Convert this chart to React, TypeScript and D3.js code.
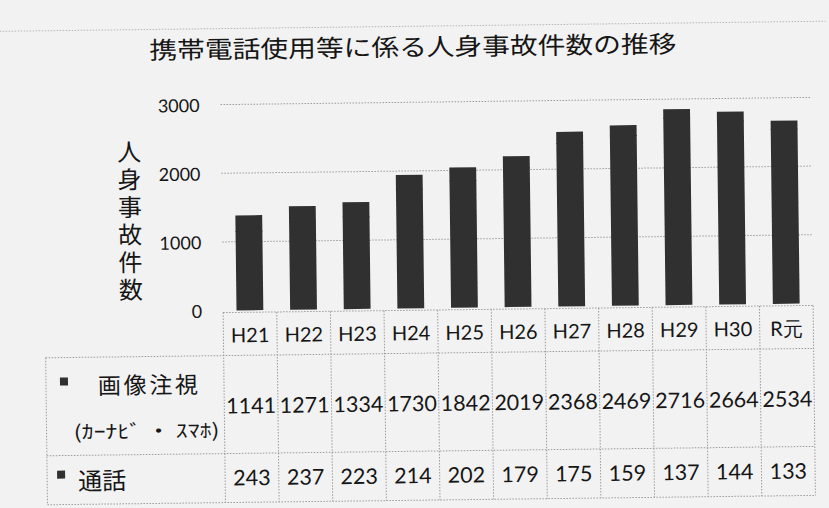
import React from 'react';
import * as d3 from 'd3';

const categories = ['H21', 'H22', 'H23', 'H24', 'H25', 'H26', 'H27', 'H28', 'H29', 'H30', 'R元'];
const imageWatch = [1141, 1271, 1334, 1730, 1842, 2019, 2368, 2469, 2716, 2664, 2534];
const calls = [243, 237, 223, 214, 202, 179, 175, 159, 137, 144, 133];
const yTicks = [0, 1000, 2000, 3000];
const titleText = '携帯電話使用等に係る人身事故件数の推移';
const yTitle = '人身事故件数';
const seriesNames = ['画像注視', '通話'];
const seriesSub = '(ｶｰﾅﾋﾞ ・ ｽﾏﾎ)';

const W = 829;
const H = 508;
const tableLeft = 223;
const tableRight = 813;
const legendLeft = 45;
const headerTop = 309;
const headerBottom = 352;
const row1Bottom = 450;
const row2Bottom = 499;

const numFont = 'Lato, "Open Sans", sans-serif';
const jpFont = '"Noto Sans CJK JP", sans-serif';
const ink = '#161616';
const barFill = '#303030';
const lineCol = '#9a9a9a';

export default function App() {
  const x = d3.scaleBand<string>().domain(categories).range([tableLeft, tableRight]).paddingInner(0.5).paddingOuter(0.25);
  const col = d3.scaleBand<string>().domain(categories).range([tableLeft, tableRight]).padding(0);
  const y = d3.scaleLinear().domain([0, 3000]).range([307, 101]);

  const rows = categories.map((c, i) => ({ cat: c, img: imageWatch[i], call: calls[i] }));
  const stacked = d3.stack<any>().keys(['img', 'call'])(rows);

  const colEdges = categories.map((c) => col(c) as number).concat([tableRight]);

  return (
    <svg width={W} height={H} style={{ position: 'absolute', left: 0, top: 0 }}>
      <rect x={0} y={0} width={W} height={H} fill="#f2f2f2" />
      <g transform="rotate(-0.7, 518, 300)">
        <line x1={0} x2={W} y1={25} y2={25} stroke="#b5b5b5" strokeDasharray="1.5,1.5" />
        <text x={416} y={44} textAnchor="middle" dominantBaseline="central" fontFamily={jpFont} fontSize={24} fill={ink} textLength={527} lengthAdjust="spacingAndGlyphs">
          {titleText}
        </text>

        {yTicks.filter((t) => t > 0).map((t) => (
          <line key={'g' + t} x1={tableLeft} x2={tableRight} y1={y(t)} y2={y(t)} stroke={lineCol} strokeDasharray="1.5,1.5" />
        ))}
        {yTicks.map((t) => (
          <text key={'t' + t} x={202} y={y(t)} textAnchor="end" dominantBaseline="central" fontFamily={numFont} fontSize={18} fill={ink}>
            {t}
          </text>
        ))}
        <text
          x={131}
          y={135}
          style={{ writingMode: 'vertical-rl' as any }}
          fontFamily={jpFont}
          fontSize={24}
          letterSpacing={3.6}
          fill={ink}
        >
          {yTitle}
        </text>

        {stacked.map((s, si) => (
          <g key={s.key}>
            {s.map((d, i) => (
              <rect
                key={i}
                x={x(categories[i]) as number}
                width={x.bandwidth()}
                y={y(d[1]) - (si === 0 ? 1 : 0)}
                height={y(d[0]) - y(d[1]) + (si === 0 ? 1 : 0)}
                fill={barFill}
              />
            ))}
          </g>
        ))}

        {/* table lines */}
        <line x1={tableLeft} x2={tableRight} y1={headerTop} y2={headerTop} stroke={lineCol} strokeDasharray="1.5,1.5" />
        {[headerBottom, row1Bottom, row2Bottom].map((yy) => (
          <line key={'h' + yy} x1={legendLeft} x2={tableRight} y1={yy} y2={yy} stroke={lineCol} strokeDasharray="1.5,1.5" />
        ))}
        <line x1={legendLeft} x2={legendLeft} y1={headerBottom} y2={row2Bottom} stroke={lineCol} strokeDasharray="1.5,1.5" />
        {colEdges.map((xx, i) => (
          <line key={'v' + i} x1={xx} x2={xx} y1={headerTop} y2={row2Bottom} stroke={lineCol} strokeDasharray="1.5,1.5" />
        ))}

        {categories.map((c) => (
          <text key={'c' + c} x={(col(c) as number) + col.bandwidth() / 2} y={331} textAnchor="middle" dominantBaseline="central" fontFamily={numFont} fontSize={20} fill={ink}>
            {c}
          </text>
        ))}
        {imageWatch.map((v, i) => (
          <text key={'v1' + i} x={(col(categories[i]) as number) + col.bandwidth() / 2} y={402} textAnchor="middle" dominantBaseline="central" fontFamily={numFont} fontSize={21.5} fill={ink}>
            {v}
          </text>
        ))}
        {calls.map((v, i) => (
          <text key={'v2' + i} x={(col(categories[i]) as number) + col.bandwidth() / 2} y={474} textAnchor="middle" dominantBaseline="central" fontFamily={numFont} fontSize={21.5} fill={ink}>
            {v}
          </text>
        ))}

        {/* legend cells */}
        <rect x={59} y={372} width={8} height={8} fill={barFill} />
        <text x={97} y={379} dominantBaseline="central" fontFamily={jpFont} fontSize={23} fill={ink} textLength={100} lengthAdjust="spacing">
          {seriesNames[0]}
        </text>
        <text x={72} y={425} dominantBaseline="central" fontFamily={jpFont} fontSize={19} fill={ink} textLength={146} lengthAdjust="spacingAndGlyphs">
          {seriesSub}
        </text>
        <rect x={55} y={465} width={8} height={8} fill={barFill} />
        <text x={76} y={474} dominantBaseline="central" fontFamily={jpFont} fontSize={24} fill={ink}>
          {seriesNames[1]}
        </text>
      </g>
    </svg>
  );
}
